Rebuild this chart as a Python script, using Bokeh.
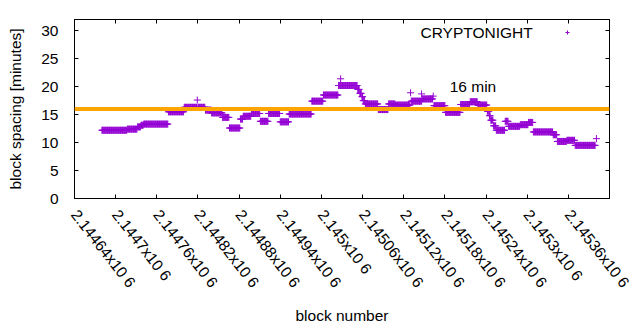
import numpy as np
from bokeh.plotting import figure
from bokeh.models import (Range1d, FixedTicker, LinearAxis, Span, Label,
                          Legend, LegendItem, ColumnDataSource)
from bokeh.embed import file_html
from bokeh.resources import INLINE

# ---- data ----
# runs of consecutive blocks sharing the same spacing value: [start, end)
run_start = [2144680, 2144717, 2144732, 2144737, 2144741, 2144777, 2144800, 2144819,
             2144820, 2144831, 2144840, 2144856, 2144866, 2144882, 2144886, 2144898,
             2144911, 2144923, 2144940, 2144953, 2144986, 2145003, 2145025, 2145028,
             2145053, 2145056, 2145059, 2145061, 2145064, 2145083, 2145098, 2145108,
             2145130, 2145131, 2145146, 2145147, 2145163, 2145164, 2145181, 2145203,
             2145217, 2145228, 2145242, 2145245, 2145247, 2145251, 2145255, 2145268,
             2145273, 2145290, 2145302, 2145309, 2145338, 2145344, 2145358, 2145370,
             2145401]
run_end = [2144717, 2144732, 2144737, 2144741, 2144777, 2144800, 2144819, 2144820,
           2144831, 2144840, 2144856, 2144866, 2144882, 2144886, 2144898, 2144911,
           2144923, 2144940, 2144953, 2144986, 2145003, 2145025, 2145053, 2145029,
           2145056, 2145059, 2145061, 2145064, 2145083, 2145098, 2145108, 2145130,
           2145131, 2145147, 2145147, 2145163, 2145164, 2145181, 2145203, 2145217,
           2145228, 2145242, 2145245, 2145247, 2145251, 2145255, 2145268, 2145273,
           2145290, 2145302, 2145309, 2145338, 2145344, 2145358, 2145370, 2145400,
           2145402]
run_value = [12.2, 12.4, 12.8, 13.1, 13.3, 15.5, 16.3, 17.6,
             16.3, 15.8, 15.3, 14.5, 12.6, 14.2, 14.7, 15.2,
             13.8, 15.2, 13.7, 15.1, 17.4, 18.5, 20.2, 21.4,
             19.5, 18.8, 18.2, 17.5, 16.9, 15.9, 16.9, 16.7,
             18.9, 17.4, 18.7, 17.8, 18.3, 16.6, 15.4, 16.8,
             17.3, 16.7, 15.6, 14.8, 14.0, 13.0, 12.2, 13.8,
             12.9, 13.2, 13.6, 11.9, 11.4, 10.2, 10.4, 9.5,
             10.7]

x_ticks = [2144640, 2144700, 2144760, 2144820, 2144880, 2144940, 2145000,
           2145060, 2145120, 2145180, 2145240, 2145300, 2145360, 2145420]
x_tick_labels = ["2.14464x10 6", "2.1447x10 6", "2.14476x10 6", "2.14482x10 6",
                 "2.14488x10 6", "2.14494x10 6", "2.145x10 6", "2.14506x10 6",
                 "2.14512x10 6", "2.14518x10 6", "2.14524x10 6", "2.1453x10 6",
                 "2.14536x10 6", "2.14542x10 6"]
y_ticks = [0, 5, 10, 15, 20, 25, 30]
target_minutes = 16
series_name = "CRYPTONIGHT"
target_label = "16 min"
target_label_pos = (2145187, 20.0)
legend_text_pos = (2145308, 29.7)

blocks = np.concatenate([np.arange(s, e) for s, e in zip(run_start, run_end)])
spacing = np.concatenate([np.full(e - s, v) for s, e, v in zip(run_start, run_end, run_value)])
src = ColumnDataSource(dict(x=blocks, y=spacing))

FONT = "Liberation Sans"
FS = "15.5px"
PURPLE = "#9400D3"
ANGLE = -52 * np.pi / 180

p = figure(width=640, height=330, output_backend="svg", toolbar_location=None,
           x_range=Range1d(2144640, 2145420), y_range=Range1d(0, 32),
           min_border_left=74, min_border_right=31, min_border_top=19,
           min_border_bottom=132)
p.background_fill_color = "white"
p.border_fill_color = "white"
p.outline_line_color = "black"
p.outline_line_width = 1
p.grid.visible = False

r = p.scatter("x", "y", source=src, marker="cross", size=7, line_color=PURPLE,
              line_width=1)

p.add_layout(Span(location=target_minutes, dimension="width", line_color="#FFA500",
                  line_width=4))

xt_all = FixedTicker(ticks=x_ticks)
xt = FixedTicker(ticks=x_ticks[:-1])
yt = FixedTicker(ticks=y_ticks)

xa = p.xaxis[0]
xa.ticker = xt
xa.major_label_overrides = {t: l for t, l in zip(x_ticks, x_tick_labels)}
xa.major_label_orientation = ANGLE
xa.axis_label = "block number"

ya = p.yaxis[0]
ya.ticker = yt
ya.axis_label = "block spacing [minutes]"

for ax in (xa, ya):
    ax.major_tick_in = 4
    ax.major_tick_out = 0
    ax.minor_tick_in = 0
    ax.minor_tick_out = 0
    ax.axis_line_color = "black"
    ax.major_tick_line_color = "black"
    ax.major_label_text_font = FONT
    ax.major_label_text_font_size = FS
    ax.major_label_text_color = "black"
    ax.axis_label_text_font = FONT
    ax.axis_label_text_font_size = FS
    ax.axis_label_text_font_style = "normal"
    ax.axis_label_text_color = "black"

ya.major_label_standoff = 16
ya.axis_label_standoff = 14
xa.major_label_standoff = 13
xa.axis_label_standoff = 8

# mirrored tick marks (top and right), no labels
for side, tk in (("above", xt_all), ("right", yt)):
    ax = LinearAxis(ticker=tk, major_tick_in=4, major_tick_out=0, minor_tick_in=0,
                    minor_tick_out=0, major_label_text_font_size="1px",
                    major_label_text_color=None, major_label_standoff=0,
                    axis_line_color="black")
    p.add_layout(ax, side)

# last x tick label (runs off the page edge, like the reference)
p.add_layout(Label(x=x_ticks[-1], y=0, text=x_tick_labels[-1], text_font=FONT,
                   text_font_size=FS, text_color="black", angle=ANGLE,
                   x_offset=-5, y_offset=-12,
                   text_align="left", text_baseline="top"))

p.add_layout(Label(x=target_label_pos[0], y=target_label_pos[1], text=target_label,
                   text_font=FONT, text_font_size=FS, text_color="black",
                   text_align="left", text_baseline="middle"))
p.add_layout(Label(x=legend_text_pos[0], y=legend_text_pos[1], text=series_name,
                   text_font=FONT, text_font_size=FS, text_color="black",
                   text_align="right", text_baseline="middle"))

leg = Legend(items=[LegendItem(label="", renderers=[r])], location=(488, 161),
             padding=0, margin=0, spacing=0, glyph_width=10, glyph_height=10,
             label_standoff=0, label_text_font_size="0px",
             border_line_color=None, background_fill_alpha=0)
p.add_layout(leg)

open("out.html", "w").write(file_html(p, INLINE))
